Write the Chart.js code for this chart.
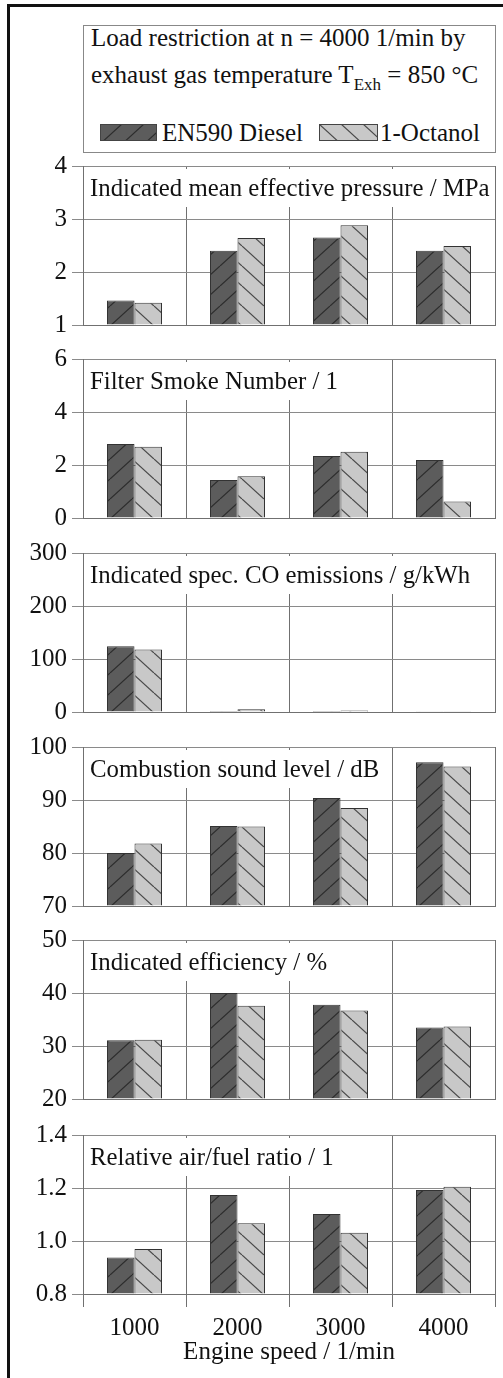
<!DOCTYPE html>
<html>
<head>
<meta charset="utf-8">
<script src="https://cdn.jsdelivr.net/npm/chart.js@4.4.1/dist/chart.umd.min.js"></script>
<style>
  body { margin: 0; width: 503px; height: 1378px; overflow: hidden; background: #fff;
         font-family: "Liberation Serif", serif; color: #111; }
  #frame { position: absolute; left: 7px; top: 4px; width: 600px; height: 1500px;
           border-left: 3px solid #111; border-top: 3px solid #111; }
  #legend { position: absolute; left: 83px; top: 25px; width: 411px; height: 126px;
            border: 1px solid #888; }
  .t { position: absolute; font-size: 25px; line-height: 26px; white-space: nowrap; }
  .t sub { font-size: 17px; line-height: 0; vertical-align: -7px; }
  .sw { position: absolute; }
  .panel { position: absolute; left: 0; }
</style>
</head>
<body>
<div id="frame"></div>
<div id="legend">
  <div class="t" style="left:7px;top:-1px">Load restriction at n = 4000 1/min by</div>
  <div class="t" style="left:7px;top:36px">exhaust gas temperature T<sub>Exh</sub> = 850 °C</div>
  <canvas class="sw" id="swDiesel" width="57" height="17" style="left:16px;top:98px"></canvas>
  <div class="t" style="left:78px;top:94px">EN590 Diesel</div>
  <canvas class="sw" id="swOctanol" width="59" height="17" style="left:235px;top:98px"></canvas>
  <div class="t" style="left:296px;top:94px">1-Octanol</div>
</div>
<div id="panels"></div>
<script>
// engine speed categories
const speeds = ['1000', '2000', '3000', '4000'];

// indicated mean effective pressure / MPa
const imepDiesel  = [1.46, 2.40, 2.65, 2.40];
const imepOctanol = [1.42, 2.64, 2.88, 2.49];
// filter smoke number / 1
const fsnDiesel  = [2.79, 1.43, 2.34, 2.19];
const fsnOctanol = [2.69, 1.58, 2.50, 0.62];
// indicated spec. CO emissions / g/kWh
const coDiesel  = [124, 2, 2, 1.5];
const coOctanol = [118, 5, 3, 0.5];
// combustion sound level / dB
const soundDiesel  = [80.0, 85.1, 90.4, 97.1];
const soundOctanol = [81.8, 85.0, 88.5, 96.3];
// indicated efficiency / %
const effDiesel  = [31.1, 40.0, 37.8, 33.5];
const effOctanol = [31.2, 37.6, 36.7, 33.7];
// relative air/fuel ratio / 1
const lambdaDiesel  = [0.938, 1.174, 1.102, 1.192];
const lambdaOctanol = [0.970, 1.067, 1.031, 1.205];

const panels = [
  {title: 'Indicated mean effective pressure / MPa', diesel: imepDiesel, octanol: imepOctanol, min: 1, max: 4, step: 1, dec: 0},
  {title: 'Filter Smoke Number / 1', diesel: fsnDiesel, octanol: fsnOctanol, min: 0, max: 6, step: 2, dec: 0},
  {title: 'Indicated spec. CO emissions / g/kWh', diesel: coDiesel, octanol: coOctanol, min: 0, max: 300, step: 100, dec: 0},
  {title: 'Combustion sound level / dB', diesel: soundDiesel, octanol: soundOctanol, min: 70, max: 100, step: 10, dec: 0},
  {title: 'Indicated efficiency / %', diesel: effDiesel, octanol: effOctanol, min: 20, max: 50, step: 10, dec: 0},
  {title: 'Relative air/fuel ratio / 1', diesel: lambdaDiesel, octanol: lambdaOctanol, min: 0.8, max: 1.4, step: 0.2, dec: 1}
];

// layout (pixels)
const panelTops = [166, 359, 553, 747, 940, 1135];
const plotH = 159;
const FONT = '"Liberation Serif", "Times New Roman", serif';

function hatch(bg, line, dir) {
  const c = document.createElement('canvas');
  const w = 22, h = 20;
  c.width = w; c.height = h;
  const g = c.getContext('2d');
  g.fillStyle = bg;
  g.fillRect(0, 0, w, h);
  g.strokeStyle = line;
  g.lineWidth = 1.2;
  for (const dx of [-w, 0, w]) {
    g.beginPath();
    if (dir > 0) { g.moveTo(dx, h); g.lineTo(dx + w, 0); }
    else { g.moveTo(dx, 0); g.lineTo(dx + w, h); }
    g.stroke();
  }
  return g.createPattern(c, 'repeat');
}

const dieselFill = hatch('#5c5c5c', '#2c2c2c', 1);
const octanolFill = hatch('#c8c8c8', '#484848', -1);

function swatch(id, fill) {
  const c = document.getElementById(id);
  const g = c.getContext('2d');
  g.fillStyle = fill;
  g.fillRect(0, 0, c.width, c.height);
  g.strokeStyle = '#444';
  g.strokeRect(0.5, 0.5, c.width - 1, c.height - 1);
}
swatch('swDiesel', dieselFill);
swatch('swOctanol', octanolFill);

// panel title drawn over the grid with a white backing box
const titlePlugin = {
  id: 'panelTitle',
  beforeDatasetsDraw(chart, args, opts) {
    const {ctx, chartArea} = chart;
    ctx.save();
    ctx.font = '24.8px ' + FONT;
    const w = ctx.measureText(opts.text).width;
    ctx.fillStyle = '#fff';
    ctx.fillRect(chartArea.left + 4, chartArea.top + 3,
      Math.min(w + 12, chartArea.width - 7), 38);
    ctx.fillStyle = '#111';
    ctx.textBaseline = 'middle';
    ctx.fillText(opts.text, chartArea.left + 7, chartArea.top + 23);
    ctx.restore();
  }
};

const holder = document.getElementById('panels');
panels.forEach((p, i) => {
  const last = i === panels.length - 1;
  const top = panelTops[i] - 20;
  const h = last ? 1378 - top : plotH + 40;
  const div = document.createElement('div');
  div.className = 'panel';
  div.style.top = top + 'px';
  const cv = document.createElement('canvas');
  cv.width = 503; cv.height = h;
  div.appendChild(cv);
  holder.appendChild(div);

  new Chart(cv, {
    type: 'bar',
    data: {
      labels: speeds,
      datasets: [
        {label: 'EN590 Diesel', data: p.diesel, base: p.min, backgroundColor: dieselFill,
         borderColor: '#333', borderWidth: 1},
        {label: '1-Octanol', data: p.octanol, base: p.min, backgroundColor: octanolFill,
         borderColor: '#333', borderWidth: 1}
      ]
    },
    options: {
      responsive: false,
      animation: false,
      devicePixelRatio: 1,
      layout: {padding: {top: 20, right: 8, bottom: last ? 11 : 20, left: 0}},
      datasets: {bar: {categoryPercentage: 0.534, barPercentage: 1}},
      plugins: {
        legend: {display: false},
        tooltip: {enabled: false},
        panelTitle: {text: p.title}
      },
      scales: {
        x: {
          grid: {color: '#707070', offset: true, drawTicks: last, tickLength: 13},
          border: {color: '#707070'},
          ticks: {display: last, color: '#111', padding: 6, font: {family: FONT, size: 25}},
          title: {display: last, text: 'Engine speed / 1/min', color: '#111', padding: 0,
                  font: {family: FONT, size: 25}},
          afterFit: s => { if (last) s.height = 73; }
        },
        y: {
          min: p.min, max: p.max,
          grid: {color: '#8a8a8a', tickLength: 11},
          border: {color: '#707070'},
          ticks: {stepSize: p.step, color: '#111', padding: 5, font: {family: FONT, size: 25},
                  callback: v => Number(v).toFixed(p.dec)},
          afterFit: s => { s.width = 83; }
        }
      }
    },
    plugins: [titlePlugin]
  });
});
</script>
</body>
</html>
